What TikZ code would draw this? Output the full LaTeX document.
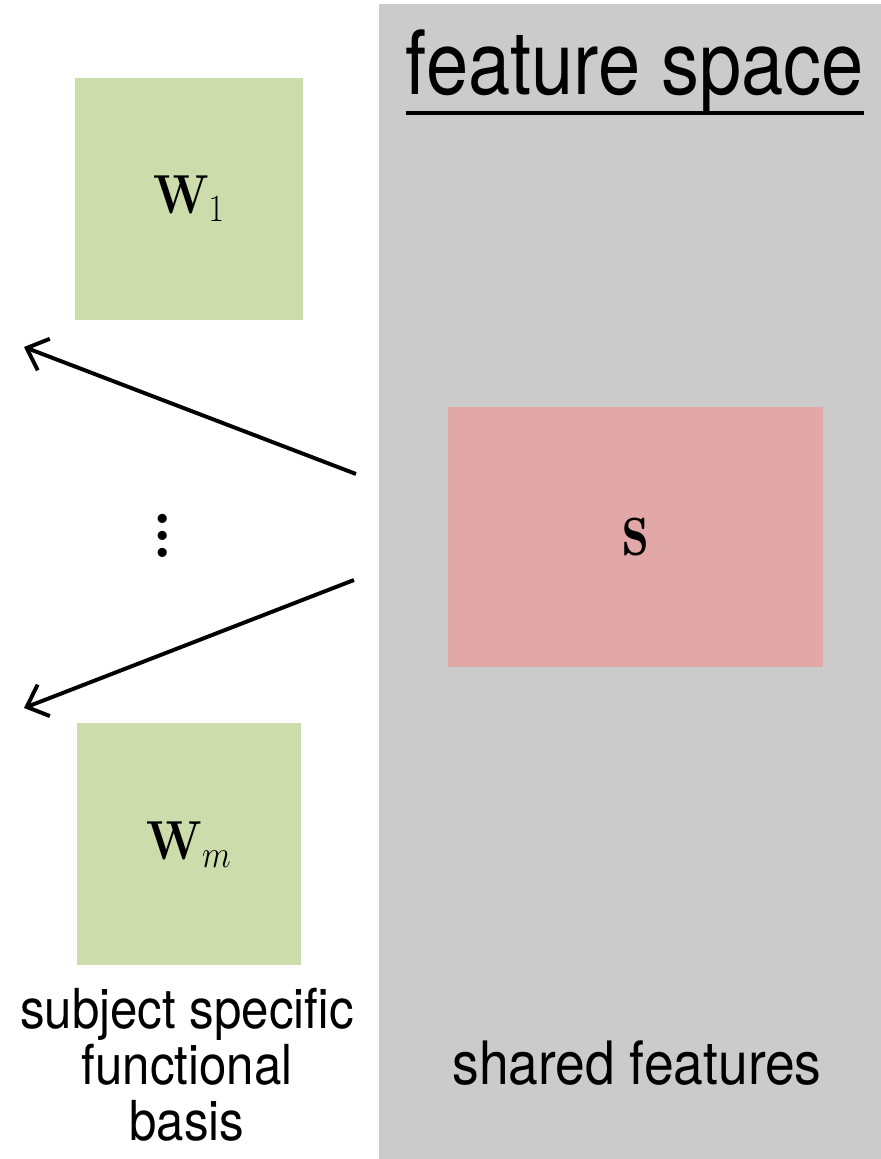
\RequirePackage{fix-cm}
\documentclass[tikz,border=0pt]{standalone}
\usepackage{amsmath}
\usepackage{amssymb}
\usepackage[no-math]{fontspec}
\setmainfont{TeX Gyre Heros}
\usetikzlibrary{arrows.meta, positioning, calc}
\definecolor{Panel}{RGB}{203, 203, 203}
\definecolor{Basis}{RGB}{205, 220, 171}
\definecolor{Shared}{RGB}{226, 168, 168}

\begin{document}
\begin{tikzpicture}[
    basisbox/.style={fill=Basis, minimum width=5.7cm, minimum height=6.05cm, font=\fontsize{34}{40}\selectfont},
    flow/.style={line width=2.8pt, -{Straight Barb[length=13pt, width=24pt, line width=2.8pt]}},
    caption/.style={align=center, inner sep=0pt, yscale=1.12, transform shape}
  ]
  \useasboundingbox (0,0) rectangle (22.025,28.975);

  % feature space panel
  \fill[Panel] (9.475,0) rectangle (22.025,28.875);
  \node[caption, anchor=base, yscale=1.04, font=\fontsize{54}{60}\selectfont] (title) at (15.875,26.6) {feature space};
  \draw[line width=2.8pt] ($(title.base west)+(0,-0.45)$) -- ($(title.base east)+(0,-0.45)$);
  \node[fill=Shared, minimum width=9.375cm, minimum height=6.5cm, font=\fontsize{42}{48}\selectfont] (s) at (15.8875,15.55) {\raisebox{-0.2cm}{\scalebox{1}[1.4]{$\mathbf{s}$}}};
  \node[caption, anchor=base, font=\fontsize{38}{40}\selectfont] (shared) at (15.925,1.85) {shared features};

  % subject bases
  \node[basisbox] (w1) at (4.725,24.0) {\scalebox{1}[1.15]{$\mathbf{W}_1$}};
  \node[basisbox, minimum width=5.6cm] (wm) at (4.725,7.8625) {\scalebox{1}[1.15]{$\mathbf{W}_m$}};
  \node[inner sep=0pt, font=\fontfamily{lmr}\fontsize{14}{16}\bfseries\selectfont] (dots) at (4.075,15.9) {\scalebox{3}{$\vdots$}};
  \node[caption, font=\fontsize{35}{35.5}\selectfont] (basis) at (4.675,2.35) {subject specific\\functional\\basis};

  % mapping arrows
  \coordinate (up start) at (8.9,17.125);
  \coordinate (up end) at (0.6,20.3);
  \coordinate (down start) at (8.85,14.475);
  \coordinate (down end) at (0.6,11.275);
  \draw[flow] (up start) -- (up end);
  \draw[flow] (down start) -- (down end);
\end{tikzpicture}
\end{document}
